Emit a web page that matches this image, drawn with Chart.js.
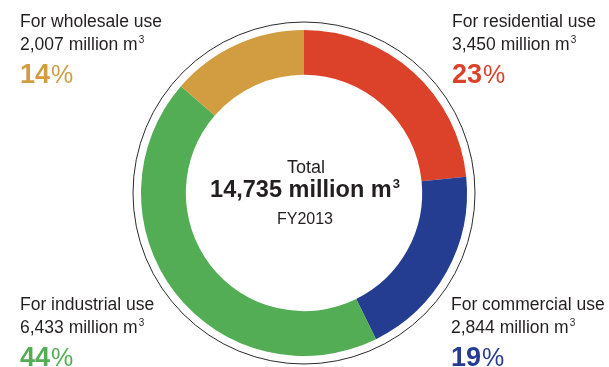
<!DOCTYPE html>
<html>
<head>
<meta charset="utf-8">
<script src="https://cdn.jsdelivr.net/npm/chart.js@4.4.1/dist/chart.umd.min.js"></script>
<style>
  html, body { margin: 0; padding: 0; background: #ffffff; }
  #wrap { position: relative; width: 609px; height: 367px; }
</style>
</head>
<body>
<div id="wrap"><canvas id="c" width="609" height="367"></canvas></div>
<script>
// Gas sales volume by use, FY2013 (million m3)
const categories = ['For residential use', 'For commercial use', 'For industrial use', 'For wholesale use'];
const volumes = [3450, 2844, 6433, 2007];
const volumeLabels = ['3,450', '2,844', '6,433', '2,007'];
const shares = [23, 19, 44, 14];
const colors = ['#dc4129', '#253d90', '#53ad55', '#d19d40'];
const totalLabel = '14,735';
const yearLabel = 'FY2013';

const FONT = '"Liberation Sans", Arial, Helvetica, sans-serif';
const TEXT = '#231f20';

// label block anchors: [x, baseline of first line]
const anchors = [
  [452, 27],
  [451, 310],
  [20, 310],
  [20, 27]
];

function drawUnit(ctx, x, y, size, weight) {
  // "m" followed by a raised small 3
  ctx.font = weight + ' ' + size + 'px ' + FONT;
  ctx.fillText('m', x, y);
  const w = ctx.measureText('m').width;
  ctx.font = weight + ' ' + Math.round(size * 0.55) + 'px ' + FONT;
  ctx.fillText('3', x + w + 1, y - size * 0.38);
  return w + 1 + ctx.measureText('3').width;
}

function drawLine(ctx, before, cx, y, size, weight, align) {
  ctx.font = weight + ' ' + size + 'px ' + FONT;
  const w1 = ctx.measureText(before).width;
  const wm = ctx.measureText('m').width;
  ctx.font = weight + ' ' + Math.round(size * 0.55) + 'px ' + FONT;
  const w3 = ctx.measureText('3').width;
  const total = w1 + wm + 1 + w3;
  const x = align === 'center' ? cx - total / 2 : cx;
  ctx.textAlign = 'left';
  ctx.font = weight + ' ' + size + 'px ' + FONT;
  ctx.fillText(before, x, y);
  drawUnit(ctx, x + w1, y, size, weight);
}

const decor = {
  id: 'decor',
  beforeDatasetsDraw(chart) {
    const arc = chart.getDatasetMeta(0).data[0];
    const ctx = chart.ctx;
    ctx.save();
    ctx.beginPath();
    ctx.arc(arc.x, arc.y, arc.outerRadius + 8, 0, Math.PI * 2);
    ctx.lineWidth = 1;
    ctx.strokeStyle = '#2a2a2a';
    ctx.stroke();
    ctx.restore();
  },
  afterDraw(chart) {
    const ctx = chart.ctx;
    const arc = chart.getDatasetMeta(0).data[0];
    ctx.save();
    ctx.textBaseline = 'alphabetic';
    ctx.fillStyle = TEXT;

    // centre caption
    ctx.textAlign = 'center';
    ctx.font = '18px ' + FONT;
    ctx.fillText('Total', arc.x + 2, 173);
    drawLine(ctx, totalLabel + ' million ', arc.x + 1, 197, 23.5, 'bold', 'center');
    ctx.fillStyle = TEXT;
    ctx.textAlign = 'center';
    ctx.font = '16px ' + FONT;
    ctx.fillText(yearLabel, arc.x + 1, 224);

    // category labels
    categories.forEach((name, i) => {
      const [x, y] = anchors[i];
      ctx.fillStyle = TEXT;
      ctx.textAlign = 'left';
      ctx.font = '17.5px ' + FONT;
      ctx.fillText(name, x, y);
      drawLine(ctx, volumeLabels[i] + ' million ', x, y + 23, 17.5, 'normal', 'left');
      ctx.fillStyle = colors[i];
      ctx.font = 'bold 27px ' + FONT;
      const num = String(shares[i]);
      ctx.fillText(num, x, y + 56);
      const nw = ctx.measureText(num).width;
      ctx.font = '25px ' + FONT;
      ctx.fillText('%', x + nw + 1, y + 56);
    });
    ctx.restore();
  }
};

new Chart(document.getElementById('c'), {
  type: 'doughnut',
  data: {
    labels: categories,
    datasets: [{
      data: volumes,
      backgroundColor: colors,
      borderWidth: 0,
      hoverOffset: 0
    }]
  },
  options: {
    responsive: false,
    animation: false,
    cutout: '72.5%',
    layout: { padding: { left: 141, right: 142, top: 30, bottom: 11 } },
    plugins: {
      legend: { display: false },
      tooltip: { enabled: false }
    },
    events: []
  },
  plugins: [decor]
});
</script>
</body>
</html>
